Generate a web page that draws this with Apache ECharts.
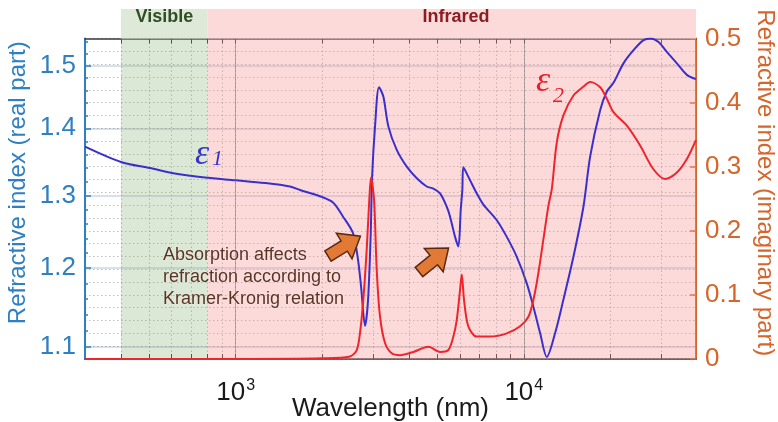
<!DOCTYPE html>
<html>
<head>
<meta charset="utf-8">
<script src="https://cdn.jsdelivr.net/npm/echarts@6/dist/echarts.min.js"></script>
<style>
html, body { margin: 0; padding: 0; background: #ffffff; }
#chart { width: 778px; height: 422px; }
</style>
</head>
<body>
<div id="chart"></div>
<script>
// Wavelength range shown (nm)
const wlMin = 300;
const wlMax = 39600;

// Spectral bands (nm)
const visibleBand = [400, 800];
const infraredBand = [800, 39600];

// Real part of the refractive index, n(λ)
const realWavelength = [300, 400, 504, 615, 782, 1000, 1264, 1543, 1672, 1962, 2177, 2359, 2555, 2659, 2724, 2812, 2880, 2943, 2974, 3046, 3145, 3255, 3388, 3623, 3925, 4252, 4605, 4855, 5122, 5403, 5548, 5773, 5928, 6043, 6120, 6170, 6510, 6868, 7240, 8060, 8730, 9457, 10242, 10797, 11394, 12022, 12846, 13727, 14869, 16106, 16993, 18408, 19421, 20472, 22176, 24030, 26030, 27460, 29340, 31370, 33990, 36810, 39600];
const realIndex = [1.372, 1.349, 1.340, 1.332, 1.326, 1.322, 1.318, 1.313, 1.308, 1.299, 1.290, 1.270, 1.247, 1.211, 1.176, 1.126, 1.158, 1.247, 1.325, 1.403, 1.465, 1.450, 1.403, 1.367, 1.342, 1.325, 1.313, 1.310, 1.303, 1.284, 1.270, 1.242, 1.229, 1.280, 1.308, 1.341, 1.322, 1.303, 1.287, 1.265, 1.242, 1.215, 1.180, 1.150, 1.117, 1.088, 1.117, 1.159, 1.215, 1.284, 1.357, 1.428, 1.458, 1.472, 1.504, 1.526, 1.543, 1.546, 1.540, 1.523, 1.504, 1.485, 1.478];

// Imaginary part of the refractive index, k(λ)
const imagWavelength = [300, 1000, 2000, 2494, 2631, 2702, 2774, 2850, 2910, 2950, 3022, 3088, 3170, 3299, 3481, 3720, 4138, 4667, 5122, 5472, 5696, 5853, 6009, 6091, 6204, 6420, 6868, 7638, 8730, 9710, 10375, 10797, 11236, 11700, 12173, 12508, 13020, 13727, 14869, 16106, 16993, 18408, 19421, 20472, 22790, 25340, 28180, 30950, 33990, 36810, 39600];
const imagIndex = [0.000, 0.000, 0.001, 0.004, 0.014, 0.041, 0.093, 0.171, 0.249, 0.283, 0.249, 0.138, 0.066, 0.025, 0.009, 0.006, 0.011, 0.019, 0.011, 0.014, 0.035, 0.061, 0.108, 0.132, 0.092, 0.051, 0.035, 0.035, 0.040, 0.051, 0.066, 0.092, 0.134, 0.187, 0.239, 0.265, 0.338, 0.380, 0.411, 0.425, 0.432, 0.424, 0.406, 0.385, 0.364, 0.333, 0.296, 0.281, 0.291, 0.312, 0.342];

// Axis ticks and labels
const xLabelValues = [1000, 10000];
const xTickValues = [400, 500, 600, 700, 800, 900, 1000, 2000, 3000, 4000, 5000, 6000, 7000, 8000, 9000, 10000, 20000, 30000];
const leftMin = 1.0855, leftMax = 1.5458;
const leftLabelValues = [1.1, 1.2, 1.3, 1.4, 1.5];
const leftMinorValues = [1.12, 1.14, 1.16, 1.18, 1.22, 1.24, 1.26, 1.28, 1.32, 1.34, 1.36, 1.38, 1.42, 1.44, 1.46, 1.48, 1.52, 1.54];
const rightMin = 0, rightMax = 0.5, rightStep = 0.1;

const BLUE_AXIS = '#2f7fc1';
const ORANGE_AXIS = '#d6652c';
const LINE_BLUE = '#3b2fcc';
const LINE_RED = '#f0242c';
const GRID_DOT = 'rgba(110,110,110,0.45)';
const FONT = '"Liberation Sans", Arial, sans-serif';
const SERIF = '"Liberation Serif", "DejaVu Serif", serif';

function zip(xs, ys) { return xs.map((x, i) => [x, ys[i]]); }

const chart = echarts.init(document.getElementById('chart'), null, { renderer: 'canvas' });

const option = {
  animation: false,
  backgroundColor: '#ffffff',
  grid: { left: 85, right: 82, top: 38.5, bottom: 63, containLabel: false, outerBoundsMode: 'none' },
  xAxis: [
    {
      type: 'log', logBase: 10, min: wlMin, max: wlMax, position: 'bottom',
      name: 'Wavelength (nm)', nameLocation: 'middle', nameGap: 37, nameMoveOverlap: false,
      nameTextStyle: { fontFamily: FONT, fontSize: 26, color: '#1a1a1a' },
      axisLine: { onZero: false, lineStyle: { color: '#3a3a3a', width: 1.5 } },
      axisTick: { inside: true, length: 5, customValues: xTickValues, lineStyle: { color: '#333' } },
      axisLabel: {
        customValues: xLabelValues, margin: 13,
        formatter: v => '{b|10}{s|' + Math.round(Math.log10(v)) + '}',
        rich: {
          b: { fontFamily: FONT, fontSize: 26, color: '#1a1a1a', padding: [8, 0, 0, 0] },
          s: { fontFamily: FONT, fontSize: 16, color: '#1a1a1a', padding: [0, 0, 6, 1] }
        }
      },
      splitLine: { show: true, lineStyle: { color: GRID_DOT, type: [1.5, 2.5], width: 1 } }
    },
    {
      type: 'log', logBase: 10, min: wlMin, max: wlMax, position: 'top',
      axisLine: { onZero: false, lineStyle: { color: '#3a3a3a', width: 1.5 } },
      axisTick: { inside: true, length: 5, customValues: xTickValues, lineStyle: { color: '#333' } },
      axisLabel: { show: false },
      splitLine: { show: false }
    }
  ],
  yAxis: [
    {
      type: 'log', logBase: 10, min: leftMin, max: leftMax, position: 'left',
      name: 'Refractive index (real part)', nameLocation: 'middle', nameGap: 55, nameRotate: 90,
      nameMoveOverlap: false,
      nameTextStyle: { fontFamily: FONT, fontSize: 24, color: BLUE_AXIS, padding: [0, 0, 0, 32] },
      axisLine: { show: true, onZero: false, lineStyle: { color: BLUE_AXIS, width: 2 } },
      axisTick: { inside: true, length: 6, customValues: leftLabelValues, lineStyle: { color: BLUE_AXIS, width: 1.5 } },
      axisLabel: {
        customValues: leftLabelValues, margin: 9,
        formatter: v => Number(v).toFixed(1),
        fontFamily: FONT, fontSize: 26, color: BLUE_AXIS
      },
      splitLine: { show: true, lineStyle: { color: 'rgba(110,140,180,0.35)', width: 1.5 } }
    },
    {
      type: 'value', min: rightMin, max: rightMax, interval: rightStep, position: 'right',
      name: 'Refractive index (imaginary part)', nameLocation: 'middle', nameGap: 57, nameRotate: -90,
      nameMoveOverlap: false,
      nameTextStyle: { fontFamily: FONT, fontSize: 24, color: ORANGE_AXIS, padding: [0, 32, 0, 0] },
      axisLine: { show: true, onZero: false, lineStyle: { color: ORANGE_AXIS, width: 2 } },
      axisTick: { inside: true, length: 6, lineStyle: { color: ORANGE_AXIS, width: 1.5 } },
      axisLabel: {
        margin: 9,
        formatter: v => (v === 0 ? '0' : Number(v).toFixed(1)),
        fontFamily: FONT, fontSize: 26, color: ORANGE_AXIS
      },
      splitLine: { show: true, lineStyle: { color: GRID_DOT, type: [1.5, 2.5], width: 1 } },
      minorTick: { show: false, splitNumber: 5 },
      minorSplitLine: { show: true, lineStyle: { color: GRID_DOT, type: [1.5, 2.5], width: 1 } }
    },
    {
      // minor ticks of the real-part axis
      type: 'log', logBase: 10, min: leftMin, max: leftMax, position: 'left',
      axisLine: { show: false, onZero: false },
      axisTick: { show: true, inside: true, length: 3, customValues: leftMinorValues, lineStyle: { color: BLUE_AXIS, width: 1.5 } },
      axisLabel: { show: false },
      splitLine: { show: false }
    }
  ],
  series: [
    {
      name: 'n', type: 'line', xAxisIndex: 0, yAxisIndex: 0, z: 3,
      data: zip(realWavelength, realIndex),
      showSymbol: false, smooth: 0.3,
      lineStyle: { color: LINE_BLUE, width: 2 },
      markArea: {
        silent: true,
        data: [
          [{ xAxis: visibleBand[0], itemStyle: { color: 'rgba(140,180,120,0.30)' } }, { xAxis: visibleBand[1] }],
          [{ xAxis: infraredBand[0], itemStyle: { color: 'rgba(245,150,150,0.35)' } }, { xAxis: infraredBand[1] }]
        ]
      },
      markLine: {
        silent: true, symbol: 'none', label: { show: false },
        lineStyle: { color: 'rgba(110,110,110,0.5)', type: 'solid', width: 1 },
        data: xLabelValues.map(v => ({ xAxis: v }))
      }
    },
    {
      name: 'k', type: 'line', xAxisIndex: 0, yAxisIndex: 1, z: 4,
      data: zip(imagWavelength, imagIndex),
      showSymbol: false, smooth: 0.3,
      lineStyle: { color: LINE_RED, width: 2 }
    }
  ]
};

chart.setOption(option);

// Band headers above the plot, annotations and arrows
const xv0 = chart.convertToPixel({ xAxisIndex: 0 }, visibleBand[0]);
const xv1 = chart.convertToPixel({ xAxisIndex: 0 }, visibleBand[1]);
const xi1 = chart.convertToPixel({ xAxisIndex: 0 }, infraredBand[1]);
const headTop = 9, headBottom = 38.5;

function arrow(cx, cy, rot) {
  return {
    type: 'polygon', x: cx, y: cy, rotation: rot, z: 20,
    shape: { points: [[0, -6], [19, -6], [19, -15], [38, 0], [19, 15], [19, 6], [0, 6]] },
    style: { fill: '#e27a36', stroke: '#5a2a10', lineWidth: 1.5 }
  };
}

chart.setOption({
  graphic: [
    { type: 'rect', z: 1, shape: { x: xv0, y: headTop, width: xv1 - xv0, height: headBottom - headTop }, style: { fill: '#dfe9d8' } },
    { type: 'rect', z: 1, shape: { x: xv1, y: headTop, width: xi1 - xv1, height: headBottom - headTop }, style: { fill: '#fcdada' } },
    { type: 'text', z: 2, x: (xv0 + xv1) / 2, y: 17, style: { text: 'Visible', font: 'bold 18px ' + FONT, fill: '#2f4f24', align: 'center', verticalAlign: 'middle' } },
    { type: 'text', z: 2, x: 456, y: 17, style: { text: 'Infrared', font: 'bold 18px ' + FONT, fill: '#8a1c22', align: 'center', verticalAlign: 'middle' } },
    { type: 'text', z: 20, x: 195, y: 173, style: { text: 'ε', font: 'italic 36px ' + SERIF, fill: '#3b32c8', verticalAlign: 'bottom' } },
    { type: 'text', z: 20, x: 212, y: 170, style: { text: '1', font: 'italic 22px ' + SERIF, fill: '#3b32c8', verticalAlign: 'bottom' } },
    { type: 'text', z: 20, x: 536, y: 100, style: { text: 'ε', font: 'italic 36px ' + SERIF, fill: '#e8202a', verticalAlign: 'bottom' } },
    { type: 'text', z: 20, x: 553, y: 107, style: { text: '2', font: 'italic 22px ' + SERIF, fill: '#e8202a', verticalAlign: 'bottom' } },
    {
      type: 'text', z: 20, x: 163, y: 244,
      style: {
        text: 'Absorption affects\nrefraction according to\nKramer-Kronig relation',
        font: '18px ' + FONT, fill: '#5b3426', lineHeight: 22, verticalAlign: 'top',
        textShadowColor: 'rgba(255,255,255,0.6)', textShadowBlur: 2
      }
    },
    arrow(328, 256, 0.55),
    arrow(419, 272, 0.68)
  ]
});
</script>
</body>
</html>
